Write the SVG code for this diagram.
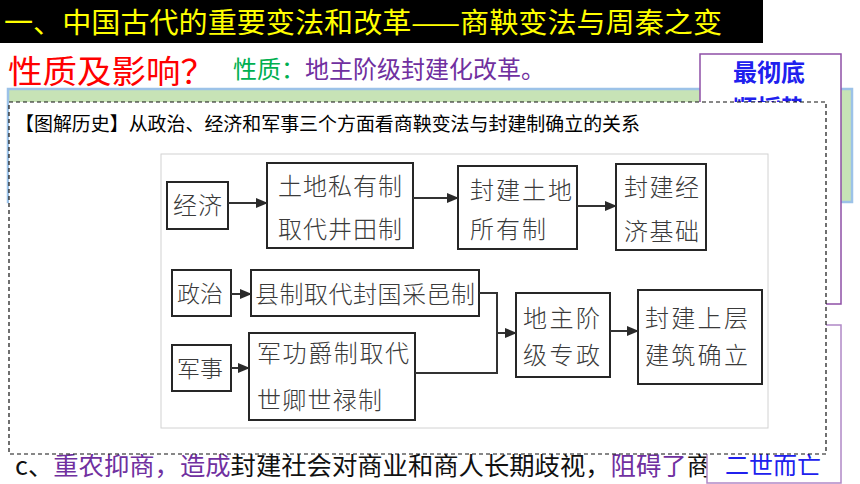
<svg xmlns="http://www.w3.org/2000/svg" width="860" height="484" viewBox="0 0 860 484">
<defs>
<style>
.cjk{font-family:"Noto Sans CJK SC","Noto Sans CJK TC",sans-serif;}
.bx{fill:#fff;stroke:#262626;stroke-width:2;}
.bt{font-family:"Noto Sans CJK SC",sans-serif;font-size:24px;fill:#3a3a3a;font-weight:300;}
.cn{fill:none;stroke:#333;stroke-width:2;}
.pur{fill:#7030a0;}
.blk{fill:#111;}
</style>
<marker id="ah" markerUnits="userSpaceOnUse" markerWidth="12" markerHeight="10" refX="11" refY="5" orient="auto">
<path d="M0,0 L12,5 L0,10 z" fill="#2a2a2a"/>
</marker>
</defs>
<rect x="0" y="0" width="860" height="484" fill="#fff"/>

<g id="title">
<rect x="0" y="0" width="763" height="43" fill="#000"/>
<text class="cjk" x="4" y="33" font-size="28" fill="#ffff00" textLength="718" lengthAdjust="spacingAndGlyphs">一、中国古代的重要变法和改革——商鞅变法与周秦之变</text>
</g>

<g id="question">
<text class="cjk" x="8" y="83" font-size="32" fill="#ff0000" textLength="207" lengthAdjust="spacingAndGlyphs">性质及影响？</text>
<text class="cjk" x="233" y="78" font-size="24"><tspan fill="#00b050">性质：</tspan><tspan class="pur">地主阶级封建化改革。</tspan></text>
</g>

<g id="greenbox">
<rect x="8" y="89" width="844" height="113" fill="#c7e3b6" stroke="#9cc2e8" stroke-width="2.5"/>
</g>

<g id="bottomline">
<text class="cjk" x="15" y="475" font-size="25" textLength="697" lengthAdjust="spacingAndGlyphs"><tspan class="blk">c、</tspan><tspan class="pur">重农抑商，造成</tspan><tspan class="blk">封建社会对商业和商人长期歧视，</tspan><tspan class="pur">阻碍了</tspan><tspan class="blk">商</tspan></text>
</g>

<g id="sidebox1">
<rect x="700" y="54" width="141" height="250" fill="#fff" stroke="#8e4fa6" stroke-width="1.5"/>
<text class="cjk" x="733" y="81" font-size="24" fill="#2020ee" font-weight="bold">最彻底</text>
<text class="cjk" x="733" y="117" font-size="24" fill="#2020ee" font-weight="bold">顺捋势</text>
</g>

<g id="sidebox2">
<rect x="707" y="325" width="134" height="158" fill="#fff" stroke="#b088c6" stroke-width="1.5"/>
<text class="cjk" x="725" y="474" font-size="24" fill="#2020ee">二世而亡</text>
</g>

<g id="panel">
<rect x="9" y="102" width="817" height="352" fill="#fff" stroke="#111" stroke-width="1.2" stroke-dasharray="4 3"/>
<text class="cjk" x="15" y="131" font-size="19" fill="#000" textLength="625" lengthAdjust="spacingAndGlyphs">【图解历史】从政治、经济和军事三个方面看商鞅变法与封建制确立的关系</text>
<rect x="161" y="154" width="607" height="274" fill="#fff" stroke="#d2d2d2" stroke-width="1"/>
</g>

<g id="n-jingji"><rect class="bx" x="167" y="182" width="61" height="47"/><text class="bt" x="173" y="214" font-size="23" letter-spacing="1">经济</text></g>
<g id="n-tudi"><rect class="bx" x="267" y="163" width="146" height="85"/><text class="bt" x="278" y="195" letter-spacing="1">土地私有制</text><text class="bt" x="278" y="238" letter-spacing="1">取代井田制</text></g>
<g id="n-fjtd"><rect class="bx" x="458" y="166" width="119" height="83"/><text class="bt" x="470" y="199" letter-spacing="2">封建土地</text><text class="bt" x="470" y="238" letter-spacing="2">所有制</text></g>
<g id="n-fjjj"><rect class="bx" x="616" y="164" width="90" height="86"/><text class="bt" x="624" y="196" letter-spacing="1.5">封建经</text><text class="bt" x="624" y="240" letter-spacing="1.5">济基础</text></g>
<g id="n-zhengzhi"><rect class="bx" x="172" y="270" width="59" height="46"/><text class="bt" x="177" y="302" style="font-size:23px">政治</text></g>
<g id="n-xianzhi"><rect class="bx" x="251" y="270" width="228" height="46"/><text class="bt" x="255" y="303" letter-spacing="0.5">县制取代封国采邑制</text></g>
<g id="n-junshi"><rect class="bx" x="172" y="345" width="59" height="46"/><text class="bt" x="177" y="377" style="font-size:23px">军事</text></g>
<g id="n-jungong"><rect class="bx" x="249" y="333" width="166" height="87"/><text class="bt" x="257" y="362" letter-spacing="1.6">军功爵制取代</text><text class="bt" x="257" y="409" letter-spacing="1.25">世卿世禄制</text></g>
<g id="n-dizhu"><rect class="bx" x="516" y="293" width="94" height="84"/><text class="bt" x="523" y="327" letter-spacing="2.5">地主阶</text><text class="bt" x="523" y="364" letter-spacing="2.5">级专政</text></g>
<g id="n-shangceng"><rect class="bx" x="638" y="290" width="124" height="94"/><text class="bt" x="645" y="327" letter-spacing="2.3">封建上层</text><text class="bt" x="645" y="364" letter-spacing="2.3">建筑确立</text></g>

<g id="connectors">
<line class="cn" x1="228" y1="203" x2="267" y2="203" marker-end="url(#ah)"/>
<line class="cn" x1="413" y1="198" x2="458" y2="198" marker-end="url(#ah)"/>
<line class="cn" x1="577" y1="206" x2="616" y2="206" marker-end="url(#ah)"/>
<line class="cn" x1="231" y1="294" x2="251" y2="294" marker-end="url(#ah)"/>
<line class="cn" x1="231" y1="368" x2="249" y2="368" marker-end="url(#ah)"/>
<polyline class="cn" points="479,293 497,293 497,373 415,373"/>
<line class="cn" x1="497" y1="333" x2="516" y2="333" marker-end="url(#ah)"/>
<line class="cn" x1="610" y1="331" x2="638" y2="331" marker-end="url(#ah)"/>
</g>
</svg>
